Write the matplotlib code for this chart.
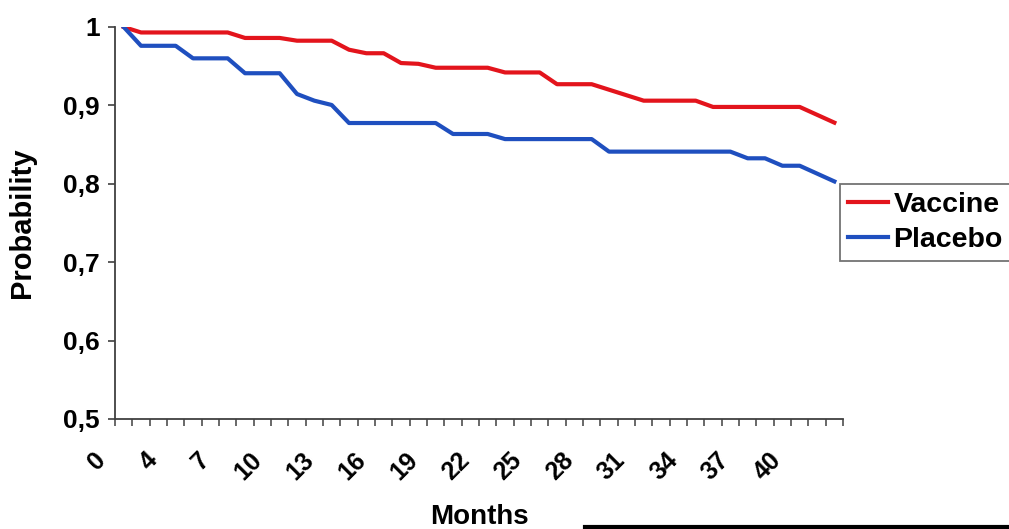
import matplotlib

matplotlib.use("Agg")
import matplotlib.pyplot as plt
import matplotlib.transforms as mtransforms
from matplotlib.lines import Line2D
from matplotlib.ticker import FixedLocator, FuncFormatter

# months on the category axis (month 1 is missing in the source sheet)
months = [0, 2, 3, 4, 5, 6, 7, 8, 9, 10, 11, 12, 13, 14, 15, 16, 17, 18, 19, 20, 21,
          22, 23, 24, 25, 26, 27, 28, 29, 30, 31, 32, 33, 34, 35, 36, 37, 38, 39, 40, 41, 42]

vaccine = [1.000, 0.993, 0.993, 0.993, 0.993, 0.993, 0.993, 0.986, 0.986, 0.986,
           0.9825, 0.9825, 0.9825, 0.971, 0.9665, 0.9665, 0.954, 0.953, 0.948, 0.948,
           0.948, 0.948, 0.942, 0.942, 0.942, 0.927, 0.927, 0.927, 0.920, 0.913,
           0.906, 0.906, 0.906, 0.906, 0.898, 0.898, 0.898, 0.898, 0.898, 0.898,
           0.888, 0.878]

placebo = [1.000, 0.976, 0.976, 0.976, 0.960, 0.960, 0.960, 0.941, 0.941, 0.941,
           0.9145, 0.906, 0.9005, 0.8775, 0.8775, 0.8775, 0.8775, 0.8775, 0.8775, 0.8635,
           0.8635, 0.8635, 0.857, 0.857, 0.857, 0.857, 0.857, 0.857, 0.841, 0.841,
           0.841, 0.841, 0.841, 0.841, 0.841, 0.841, 0.8325, 0.8325, 0.823, 0.823,
           0.813, 0.803]

yticks = [0.5, 0.6, 0.7, 0.8, 0.9, 1.0]

plt.rcParams["font.family"] = "Liberation Sans"
plt.rcParams["font.weight"] = "bold"

fig = plt.figure(figsize=(10.09, 5.29), dpi=100)
ax = fig.add_axes([0.114, 0.208, 0.7215, 0.741])

x = list(range(len(months)))
ax.plot(x, vaccine, color="#e3141c", lw=3.0, label="Vaccine", solid_joinstyle="round")
ax.plot(x, placebo, color="#1f4fbf", lw=3.0, label="Placebo", solid_joinstyle="round")

ax.set_xlim(-0.5, len(months) - 0.5)
ax.set_ylim(0.5, 1.0)

for s in ("top", "right"):
    ax.spines[s].set_visible(False)
for s in ("left", "bottom"):
    ax.spines[s].set_color("#404040")
    ax.spines[s].set_linewidth(1.3)

# y axis
ax.set_yticks(yticks)
ax.yaxis.set_major_formatter(FuncFormatter(lambda v, p: ("%g" % round(v, 1)).replace(".", ",")))
ax.tick_params(axis="y", direction="out", length=5, width=1.2, color="#404040",
               pad=6, labelsize=19)

# x axis: labels on every 3rd category, tick marks between categories
major = x[::3]
ax.xaxis.set_major_locator(FixedLocator(major))
ax.set_xticklabels([str(months[i]) for i in major])
ax.xaxis.set_minor_locator(FixedLocator([i - 0.5 for i in range(len(months) + 1)]))
ax.tick_params(axis="x", which="major", length=0, pad=0, labelsize=18)
ax.tick_params(axis="x", which="minor", direction="out", length=5, width=1.1, color="#404040")
shift = mtransforms.ScaledTranslation(-0.22, -0.37, fig.dpi_scale_trans)
for lab in ax.get_xticklabels():
    lab.set_rotation(45)
    lab.set_rotation_mode("anchor")
    lab.set_ha("right")
    lab.set_va("center")
    lab.set_transform(lab.get_transform() + shift)

ax.set_ylabel("Probability", fontsize=21, fontweight="bold")
ax.yaxis.set_label_coords(-0.108, 0.5)
ax.set_xlabel("Months", fontsize=20, fontweight="bold")
ax.xaxis.set_label_coords(0.5, -0.218)

leg = ax.legend(loc="upper left", bbox_to_anchor=(840 / 1009, 1 - 184 / 529),
                bbox_transform=fig.transFigure, fontsize=20.5, frameon=True, fancybox=False,
                handlelength=1.4, handletextpad=0.2, borderpad=0.28, labelspacing=0.33,
                borderaxespad=0)
leg.get_frame().set_edgecolor("#505050")
leg.get_frame().set_linewidth(1.3)
for h in leg.get_lines():
    h.set_linewidth(3.0)

# box edge cut off at the bottom of the source image
fig.add_artist(Line2D([585 / 1009, 1.0], [0.004, 0.004], color="black", lw=3,
                      transform=fig.transFigure))

fig.savefig("out.png", dpi=100)
